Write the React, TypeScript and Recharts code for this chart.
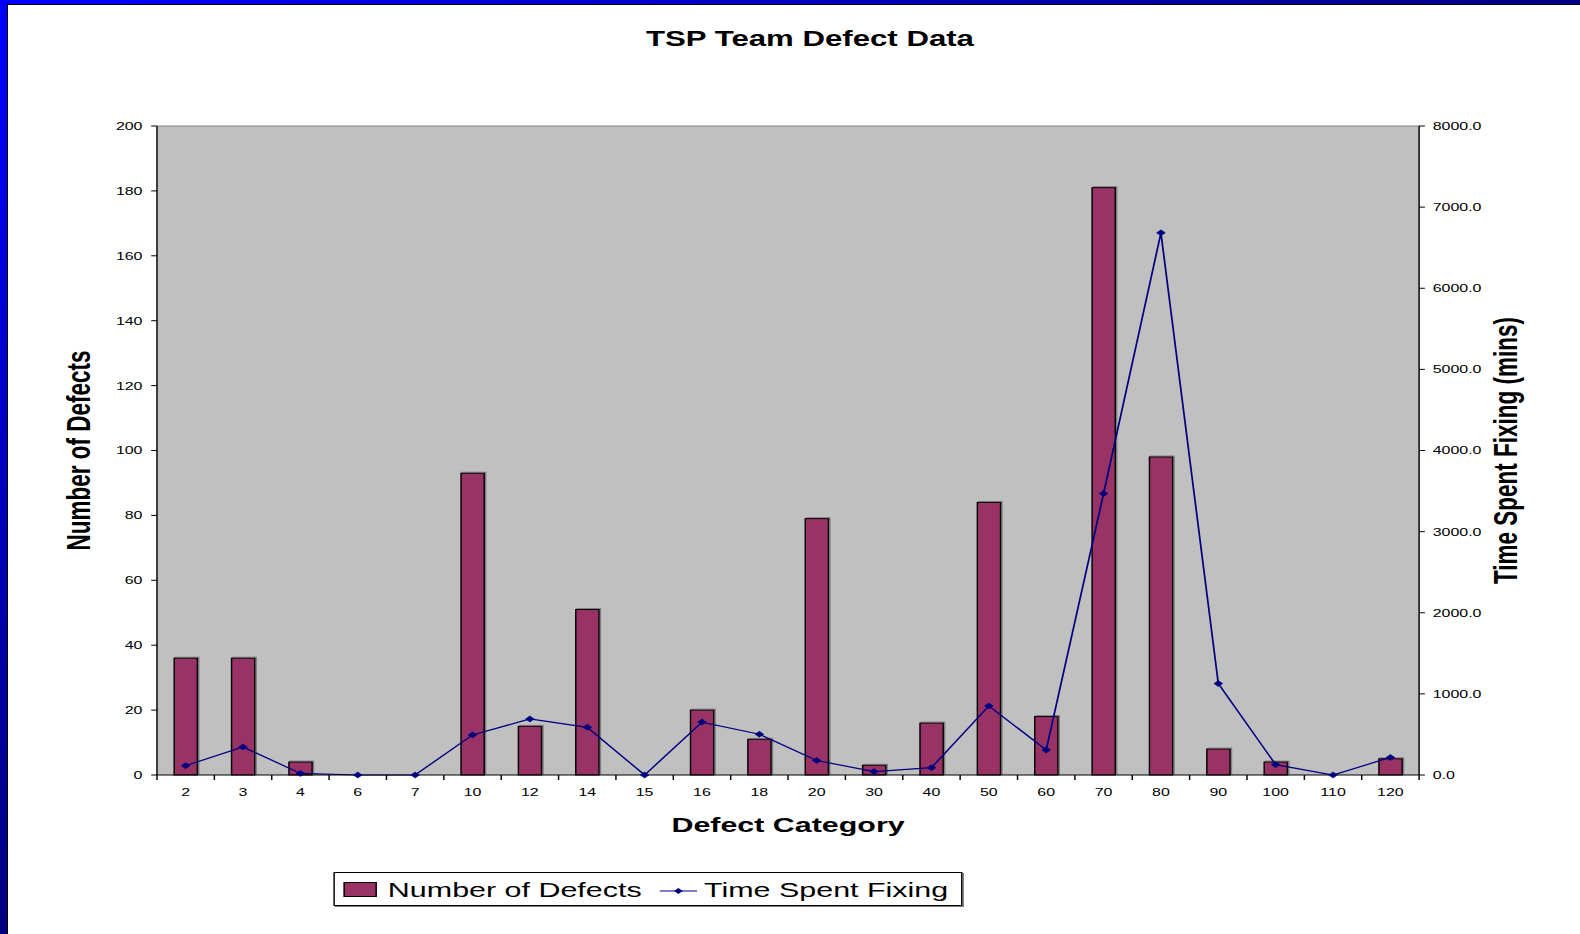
import React from 'react';
import {
  ComposedChart,
  Bar,
  Line,
  XAxis,
  YAxis,
  CartesianGrid,
  ReferenceLine,
  Legend,
  Label,
} from 'recharts';

// ---------- data ----------
const categories = ['2', '3', '4', '6', '7', '10', '12', '14', '15', '16', '18', '20', '30', '40', '50', '60', '70', '80', '90', '100', '110', '120'];
const defectCounts = [36, 36, 4, 0, 0, 93, 15, 51, 0, 20, 11, 79, 3, 16, 84, 18, 181, 98, 8, 4, 0, 5];
const minutesSpent = [115, 346, 20, 0, 0, 494, 691, 588, 0, 652, 502, 179, 42, 90, 852, 309, 3469, 6683, 1127, 127, 0, 217];
const leftTicks = [0, 20, 40, 60, 80, 100, 120, 140, 160, 180, 200];
const rightTicks = [0, 1000, 2000, 3000, 4000, 5000, 6000, 7000, 8000];

const chartTitle = 'TSP Team Defect Data';
const xTitle = 'Defect Category';
const leftTitle = 'Number of Defects';
const rightTitle = 'Time Spent Fixing (mins)';
const barName = 'Number of Defects';
const lineName = 'Time Spent Fixing';

const data = categories.map((c, i) => ({ cat: c, defects: defectCounts[i], time: minutesSpent[i] }));

// ---------- styling ----------
const CHART_W = 1090;
const CHART_H = 934;
const STRETCH = 1580 / CHART_W;
const FONT = '"Liberation Sans", Arial, Helvetica, sans-serif';
const BAR_FILL = '#993366';
const LINE_COLOR = '#000080';
const PLOT_BG = '#C0C0C0';
const LEGEND_H = 34;

const XTick = (props: any) => {
  const { x, y, payload } = props;
  const off = payload?.offset ?? 0;
  const isLast = payload?.value === categories[categories.length - 1];
  return (
    <g>
      <line x1={x - off} x2={x - off} y1={y} y2={y + 5} stroke="#000" strokeWidth={1} />
      {isLast ? <line x1={x + off} x2={x + off} y1={y} y2={y + 5} stroke="#000" strokeWidth={1} /> : null}
      <text x={x} y={y + 21} textAnchor="middle" fontSize={11} fontFamily={FONT} fill="#000">
        {payload.value}
      </text>
    </g>
  );
};

const Diamond = (p: any) => {
  const { cx, cy, index } = p;
  if (cx == null || cy == null) return <g key={`d-${index}`} />;
  const r = 3;
  return (
    <polygon
      key={`d-${index}`}
      points={`${cx},${cy - r} ${cx + r},${cy} ${cx},${cy + r} ${cx - r},${cy}`}
      fill={LINE_COLOR}
      stroke={LINE_COLOR}
      strokeWidth={0.5}
    />
  );
};

const ShadowBar = (p: any) => {
  const { x, y, width, height, fill } = p;
  if (!height || height <= 0) return <g />;
  return (
    <g>
      <rect x={x + 1} y={y - 1} width={width} height={height} fill="none" stroke="#808080" strokeWidth={1} />
      <rect x={x} y={y} width={width} height={height} fill={fill} stroke="#000" strokeWidth={1} />
    </g>
  );
};

const RotatedTitle = (text: string, shift: number) => (p: any) => {
  const vb = p.viewBox || {};
  const cx = vb.x + vb.width / 2 + shift;
  const cy = vb.y + vb.height / 2;
  return (
    <text
      x={cx}
      y={cy}
      transform={`rotate(-90 ${cx} ${cy})`}
      textAnchor="middle"
      dominantBaseline="central"
      fontSize={22.5}
      fontWeight="bold"
      fontFamily={FONT}
      fill="#000"
    >
      {text}
    </text>
  );
};

const LegendBox = () => (
  <div
    style={{
      position: 'relative',
      boxSizing: 'border-box',
      width: 434,
      height: LEGEND_H,
      border: '1px solid #000',
      background: '#fff',
      boxShadow: '1px 1px 0 #808080',
      fontFamily: FONT,
      fontSize: 21,
      lineHeight: '21px',
      color: '#000',
      whiteSpace: 'nowrap',
    }}
  >
    <span
      style={{
        position: 'absolute',
        left: 6,
        top: 9,
        width: 22.7,
        height: 15,
        boxSizing: 'border-box',
        border: '1px solid #000',
        background: BAR_FILL,
      }}
    />
    <span style={{ position: 'absolute', left: 36.2, top: 6 }}>{barName}</span>
    <svg style={{ position: 'absolute', left: 223.6, top: 12 }} width={26} height={12}>
      <line x1={0} x2={26} y1={6} y2={6} stroke={LINE_COLOR} strokeWidth={1} />
      <polygon points="13,3 16,6 13,9 10,6" fill={LINE_COLOR} />
    </svg>
    <span style={{ position: 'absolute', left: 254.3, top: 6 }}>{lineName}</span>
  </div>
);

export default function App() {
  return (
    <div style={{ position: 'absolute', left: 0, top: 0, width: 1580, height: 934, background: '#fff', overflow: 'hidden' }}>
      <div
        style={{
          position: 'absolute',
          left: 0,
          top: 0,
          width: CHART_W,
          height: CHART_H,
          transform: `scaleX(${STRETCH})`,
          transformOrigin: '0 0',
        }}
      >
        <div
          style={{
            position: 'absolute',
            left: 0,
            top: 28.5,
            width: 1117.6,
            textAlign: 'center',
            fontFamily: FONT,
            fontSize: 21.5,
            lineHeight: '21.5px',
            fontWeight: 'bold',
            color: '#000',
            whiteSpace: 'nowrap',
          }}
        >
          {chartTitle}
        </div>
        <ComposedChart
          width={CHART_W}
          height={CHART_H}
          data={data}
          margin={{ top: 126, right: 1, left: 1, bottom: 99 - LEGEND_H }}
          barCategoryGap="30%"
        >
          <CartesianGrid yAxisId="left" horizontal={false} vertical={false} fill={PLOT_BG} stroke="none" />
          <XAxis
            dataKey="cat"
            interval={0}
            height={60}
            tickLine={false}
            tickSize={0}
            tickMargin={0}
            axisLine={{ stroke: '#000', strokeWidth: 1 }}
            tick={<XTick />}
          >
            <Label
              value={xTitle}
              position="insideBottom"
              offset={3}
              fontSize={21}
              fontWeight="bold"
              fontFamily={FONT}
              fill="#000"
            />
          </XAxis>
          <YAxis
            yAxisId="left"
            orientation="left"
            width={107.3}
            domain={[0, 200]}
            ticks={leftTicks}
            interval={0}
            tickSize={4}
            tickMargin={6}
            axisLine={{ stroke: '#000', strokeWidth: 1 }}
            tickLine={{ stroke: '#000', strokeWidth: 1 }}
            tick={{ fontSize: 11, fill: '#000', fontFamily: FONT }}
          >
            <Label content={RotatedTitle(leftTitle, 0)} />
          </YAxis>
          <YAxis
            yAxisId="right"
            orientation="right"
            width={110}
            domain={[0, 8000]}
            ticks={rightTicks}
            interval={0}
            tickSize={4}
            tickMargin={5.4}
            tickFormatter={(v: number) => v.toFixed(1)}
            axisLine={{ stroke: '#000', strokeWidth: 1 }}
            tickLine={{ stroke: '#000', strokeWidth: 1 }}
            tick={{ fontSize: 11, fill: '#000', fontFamily: FONT }}
          >
            <Label content={RotatedTitle(rightTitle, 5)} />
          </YAxis>
          <ReferenceLine yAxisId="left" y={200} stroke="#808080" strokeWidth={1} />
          <Bar
            yAxisId="left"
            dataKey="defects"
            name={barName}
            fill={BAR_FILL}
            stroke="#000"
            strokeWidth={1}
            shape={ShadowBar}
            isAnimationActive={false}
          />
          <Line
            yAxisId="right"
            dataKey="time"
            name={lineName}
            type="linear"
            stroke={LINE_COLOR}
            strokeWidth={1.2}
            dot={Diamond}
            activeDot={false}
            isAnimationActive={false}
          />
          <Legend
            layout="vertical"
            align="center"
            verticalAlign="bottom"
            content={<LegendBox />}
            wrapperStyle={{ left: 230.4, top: 872, width: 434, height: LEGEND_H }}
          />
        </ComposedChart>
      </div>
      {/* slide frame */}
      <div style={{ position: 'absolute', left: 0, top: 0, width: 1580, height: 4, background: 'linear-gradient(to right, #0000ff, #000080)' }} />
      <div style={{ position: 'absolute', left: 0, top: 0, width: 7, height: 934, background: 'linear-gradient(to bottom, #0000ff, #000080)' }} />
      <div style={{ position: 'absolute', left: 7, top: 4, width: 1573, height: 1, background: '#000' }} />
      <div style={{ position: 'absolute', left: 7, top: 4, width: 1, height: 930, background: '#000' }} />
    </div>
  );
}
